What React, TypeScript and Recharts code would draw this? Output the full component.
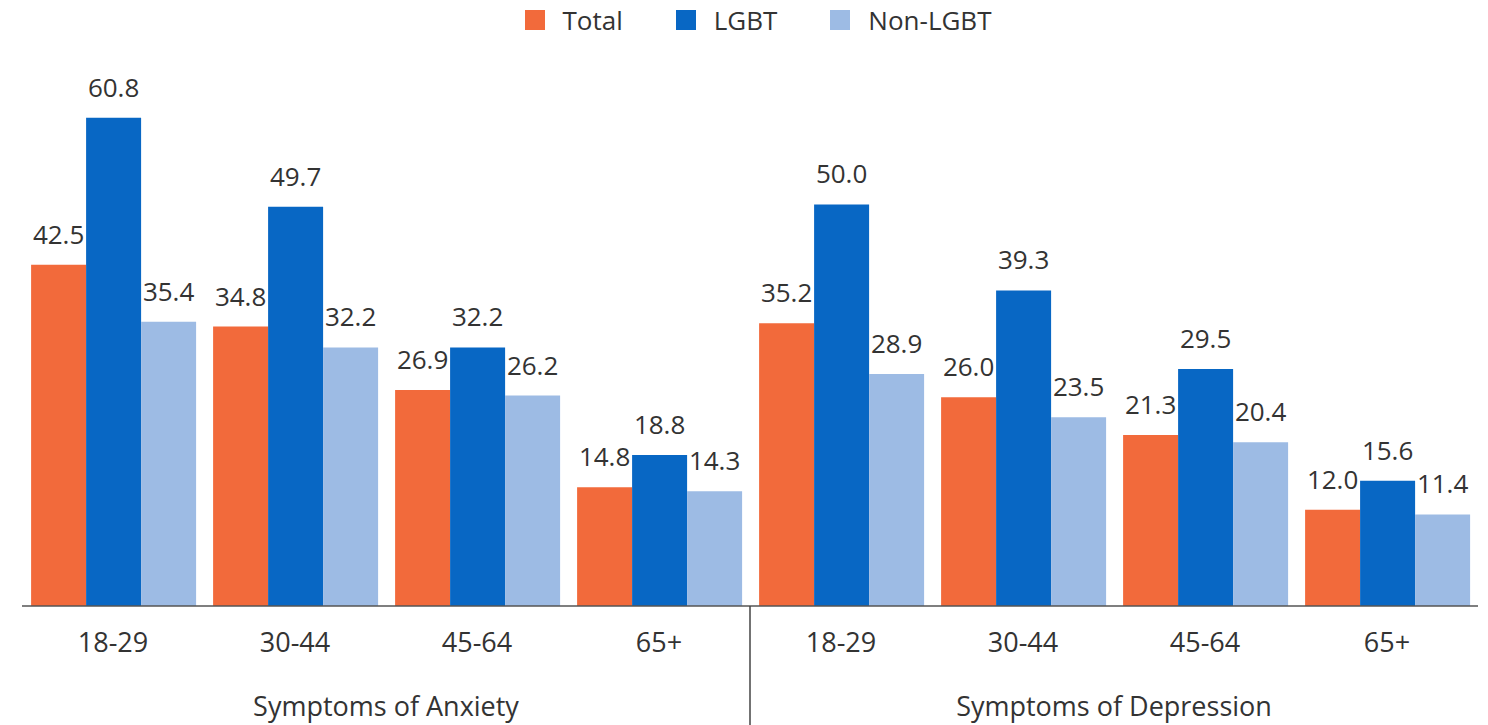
import { Bar, BarChart, XAxis, YAxis, Legend, LabelList } from "recharts";

const ageGroups = ["18-29", "30-44", "45-64", "65+", "18-29", "30-44", "45-64", "65+"];
const symptomGroups = [
    "Symptoms of Anxiety", "Symptoms of Anxiety", "Symptoms of Anxiety", "Symptoms of Anxiety",
    "Symptoms of Depression", "Symptoms of Depression", "Symptoms of Depression", "Symptoms of Depression",
];
const totalValues = [42.5, 34.8, 26.9, 14.8, 35.2, 26.0, 21.3, 12.0];
const lgbtValues = [60.8, 49.7, 32.2, 18.8, 50.0, 39.3, 29.5, 15.6];
const nonLgbtValues = [35.4, 32.2, 26.2, 14.3, 28.9, 23.5, 20.4, 11.4];

const seriesNames = ["Total", "LGBT", "Non-LGBT"];
const seriesColors = ["#f26a3b", "#0867c4", "#9dbbe4"];

const data = ageGroups.map((age, i) => ({
    age,
    group: symptomGroups[i],
    total: totalValues[i],
    lgbt: lgbtValues[i],
    nonLgbt: nonLgbtValues[i],
}));

const FONT = "'Open Sans', sans-serif";
const TEXT = "#333333";
const AGE_AXIS_H = 50;
const GROUP_AXIS_H = 69;

function GroupTick(props: any) {
    const { x, y, payload, index } = props;
    const half = payload?.offset || 364;
    return (
        <g>
            <text x={x} y={y + 60} textAnchor="middle" fill={TEXT} fontSize={27} fontFamily={FONT}>
                {payload.value}
            </text>
            {index === 0 && (
                <line x1={x + half} x2={x + half} y1={y - AGE_AXIS_H} y2={y + GROUP_AXIS_H} stroke="#444" strokeWidth={1.5} />
            )}
        </g>
    );
}

function LegendContent() {
    return (
        <div style={{ display: "flex", justifyContent: "center", alignItems: "center", height: 40, paddingLeft: 28, fontFamily: FONT, fontSize: 26, color: TEXT }}>
            {seriesNames.map((name, i) => (
                <div key={name} style={{ display: "flex", alignItems: "center", marginRight: i < 2 ? 53 : 0 }}>
                    <span style={{ width: 20, height: 20, background: seriesColors[i], marginRight: 18, display: "inline-block" }} />
                    <span>{name}</span>
                </div>
            ))}
        </div>
    );
}

const labelStyle = { fontFamily: FONT, fontSize: 26, fill: TEXT };
const fmt = (v: any) => Number(v).toFixed(1);

export default function App() {
    return (
        <div style={{ position: "absolute", left: 0, top: 0, width: 1488, height: 725, background: "#fff" }}>
            <BarChart
                width={1488}
                height={725}
                data={data}
                margin={{ top: 44, right: 10, left: 22, bottom: 0 }}
                barCategoryGap="5%"
                barGap={0}
            >
                <Legend verticalAlign="top" content={<LegendContent />} wrapperStyle={{ top: 0, left: 0, width: 1488, height: 40 }} />
                <YAxis hide domain={[0, 65]} />
                <XAxis
                    xAxisId="age"
                    dataKey="age"
                    height={AGE_AXIS_H}
                    tickLine={false}
                    tickSize={0}
                    tickMargin={27}
                    axisLine={{ stroke: "#555", strokeWidth: 1.5 }}
                    tick={{ fill: TEXT, fontSize: 27, fontFamily: FONT }}
                    interval={0}
                />
                <XAxis
                    xAxisId="group"
                    dataKey="group"
                    allowDuplicatedCategory={false}
                    height={GROUP_AXIS_H}
                    tickLine={false}
                    tickSize={0}
                    tickMargin={0}
                    axisLine={false}
                    tick={<GroupTick />}
                    interval={0}
                />
                <Bar xAxisId="age" dataKey="total" name="Total" fill={seriesColors[0]} isAnimationActive={false}>
                    <LabelList dataKey="total" position="top" offset={21} formatter={fmt} style={labelStyle} />
                </Bar>
                <Bar xAxisId="age" dataKey="lgbt" name="LGBT" fill={seriesColors[1]} isAnimationActive={false}>
                    <LabelList dataKey="lgbt" position="top" offset={21} formatter={fmt} style={labelStyle} />
                </Bar>
                <Bar xAxisId="age" dataKey="nonLgbt" name="Non-LGBT" fill={seriesColors[2]} isAnimationActive={false}>
                    <LabelList dataKey="nonLgbt" position="top" offset={21} formatter={fmt} style={labelStyle} />
                </Bar>
            </BarChart>
        </div>
    );
}
